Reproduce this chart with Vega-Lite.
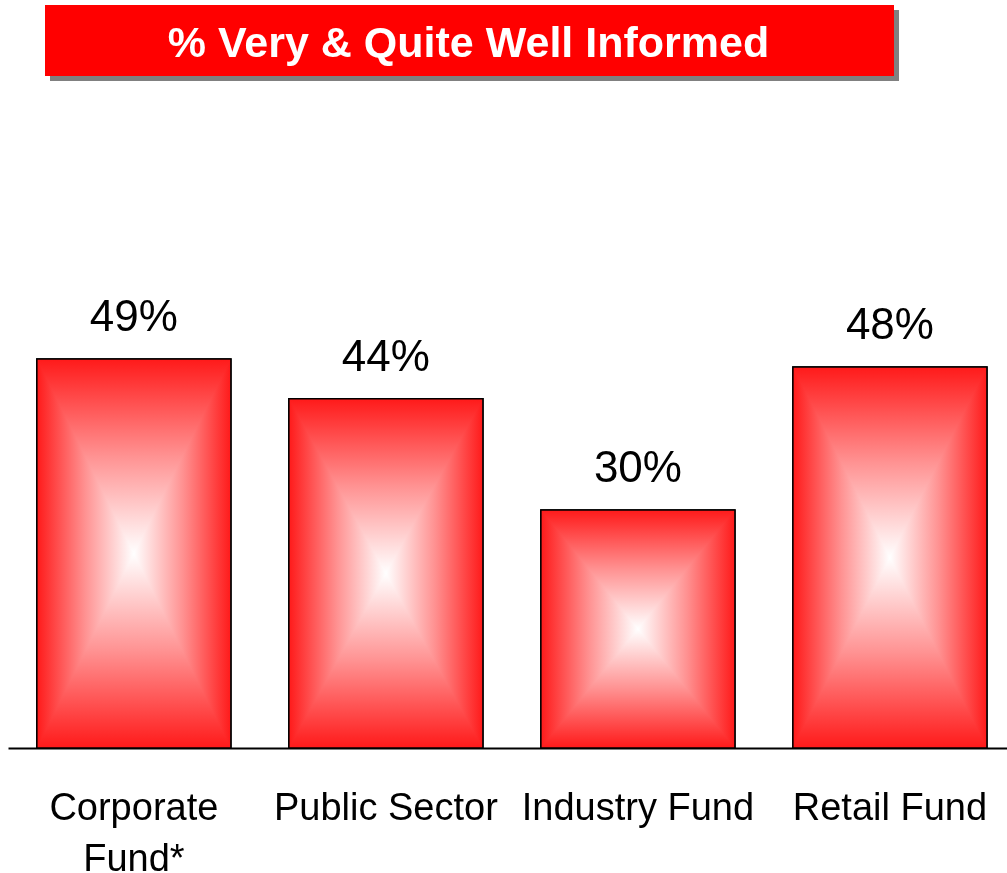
{
  "$schema": "https://vega.github.io/schema/vega-lite/v6.json",
  "padding": {"left": 8, "top": 5, "right": 0, "bottom": 0},
  "background": "white",
  "config": {"view": {"stroke": null}, "font": "Liberation Sans"},
  "spacing": 32,
  "vconcat": [
    {
      "width": 891,
      "height": 76,
      "data": {"values": [{"title": "% Very & Quite Well Informed"}]},
      "encoding": {
        "x": {"datum": 0, "type": "quantitative", "scale": {"domain": [0, 1], "nice": false}, "axis": null},
        "x2": {"datum": 1},
        "y": {"datum": 0, "type": "quantitative", "scale": {"domain": [0, 1], "nice": false}, "axis": null},
        "y2": {"datum": 1}
      },
      "layer": [
        {"mark": {"type": "rect", "color": "#808080", "xOffset": 42, "x2Offset": 0, "yOffset": 0, "y2Offset": 5}},
        {"mark": {"type": "rect", "color": "#ff0000", "xOffset": 37, "x2Offset": -5, "yOffset": -5, "y2Offset": 0}},
        {
          "mark": {"type": "text", "color": "white", "fontSize": 43, "fontWeight": "bold", "font": "Liberation Sans", "dx": 15, "dy": 14, "baseline": "alphabetic", "align": "center"},
          "encoding": {"x": null, "x2": null, "y": null, "y2": null, "text": {"field": "title"}}
        }
      ]
    },
    {
      "width": 999,
      "height": 635,
      "data": {"values": [
        {"segment": "Corporate Fund*", "value": 0.49},
        {"segment": "Public Sector", "value": 0.44},
        {"segment": "Industry Fund", "value": 0.30},
        {"segment": "Retail Fund", "value": 0.48}
      ]},
      "encoding": {
        "x": {
          "field": "segment", "type": "nominal", "sort": null,
          "scale": {"paddingInner": 0.23, "paddingOuter": 0.097, "align": 0.59},
          "axis": {
            "title": null, "labelAngle": 0, "ticks": false, "tickSize": 0, "labelPadding": 41,
            "labelFontSize": 38, "labelFont": "Liberation Sans", "labelColor": "black",
            "labelLimit": 0, "labelOverlap": false, "labelBaseline": "top", "labelLineHeight": 51,
            "domainColor": "black", "domainWidth": 2, "grid": false,
            "labelExpr": "datum.label == 'Corporate Fund*' ? ['Corporate', 'Fund*'] : datum.label"
          }
        },
        "y": {"field": "value", "type": "quantitative", "scale": {"domain": [0, 0.8]}, "axis": null}
      },
      "layer": [
        {
          "mark": {
            "type": "bar",
            "fill": {"gradient": "linear", "x1": 0, "y1": 0, "x2": 1, "y2": 0,
              "stops": [
                {"offset": 0, "color": "#ff1a1a"},
                {"offset": 0.25, "color": "#ff9292"},
                {"offset": 0.5, "color": "#ffffff"},
                {"offset": 0.75, "color": "#ff9292"},
                {"offset": 1, "color": "#ff1a1a"}
              ]},
            "stroke": "black", "strokeWidth": 1.5
          }
        },
        {
          "mark": {
            "type": "bar",
            "blend": "darken",
            "fill": {"gradient": "linear", "x1": 0, "y1": 0, "x2": 0, "y2": 1,
              "stops": [
                {"offset": 0, "color": "#ff1a1a"},
                {"offset": 0.25, "color": "#ff9292"},
                {"offset": 0.5, "color": "#ffffff"},
                {"offset": 0.75, "color": "#ff9292"},
                {"offset": 1, "color": "#ff1a1a"}
              ]},
            "stroke": "black", "strokeWidth": 1.5
          }
        },
        {
          "mark": {"type": "text", "fontSize": 44, "font": "Liberation Sans", "dy": -28, "baseline": "alphabetic", "align": "center", "color": "black"},
          "encoding": {"text": {"field": "value", "format": ".0%"}}
        }
      ]
    }
  ]
}
